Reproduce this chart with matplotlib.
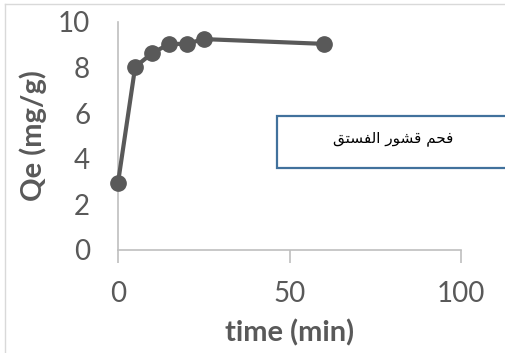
import matplotlib
matplotlib.use("Agg")
import matplotlib.pyplot as plt
from matplotlib.patches import Rectangle
from matplotlib.lines import Line2D

# ── Data ────────────────────────────────────────────────────────────────────
TIME = [0, 5, 10, 15, 20, 25, 60]
QE = [2.95, 8.03, 8.64, 9.04, 9.04, 9.25, 9.04]
X_TICKS = [0, 50, 100]
Y_TICKS = [0, 2, 4, 6, 8, 10]
# "فحم قشور الفستق" in Arabic presentation forms (matplotlib does no shaping), display order
LABEL = "\ufed3\ufea4\ufee2 \ufed7\ufeb8\ufeee\ufead \ufe8d\ufedf\ufed4\ufeb4\ufe98\ufed6"[::-1]

DARK = "#595959"
AXIS = "#BFBFBF"
BOX = "#41719C"

plt.rcParams["font.family"] = ["Lato", "DejaVu Sans"]

fig = plt.figure(figsize=(5.05, 3.53), dpi=100)
ax = fig.add_axes([0.2337, 0.2918, 0.6792, 0.6459])

ax.plot(TIME, QE, "o-", color=DARK, linewidth=3, markersize=11, clip_on=False, zorder=3)

ax.set_xlim(0, 100)
ax.set_ylim(0, 10)
ax.set_xticks(X_TICKS)
ax.set_yticks(Y_TICKS)
for s in ["top", "right"]:
    ax.spines[s].set_visible(False)
for s in ["left", "bottom"]:
    ax.spines[s].set_color(AXIS)
    ax.spines[s].set_linewidth(1.2)
ax.tick_params(axis="x", length=9, width=1.2, color=AXIS, labelsize=20, labelcolor=DARK, pad=13)
ax.tick_params(axis="y", length=0, labelsize=20, labelcolor=DARK, pad=20)

ax.set_xlabel("time (min)", fontsize=21, fontweight="bold", color=DARK, labelpad=9)
ax.set_ylabel("Qe (mg/g)", fontsize=21, fontweight="bold", color=DARK, labelpad=8)

# outer chart border (partly cut off in the reference)
fig.add_artist(Line2D([5 / 505, 1], [1 - 4 / 353, 1 - 4 / 353], transform=fig.transFigure, color="#D9D9D9", lw=1))
fig.add_artist(Line2D([5 / 505, 5 / 505], [0, 1 - 4 / 353], transform=fig.transFigure, color="#D9D9D9", lw=1))

# text box
fig.add_artist(Rectangle((277 / 505, 1 - 168 / 353), 240 / 505, 52 / 353, transform=fig.transFigure,
                         facecolor="white", edgecolor=BOX, linewidth=1.6, zorder=5))
fig.text(393 / 505, 1 - 138 / 353, LABEL, family="DejaVu Sans", fontsize=11, color="black",
         ha="center", va="center", zorder=6)

fig.savefig("out.png", dpi=100)
